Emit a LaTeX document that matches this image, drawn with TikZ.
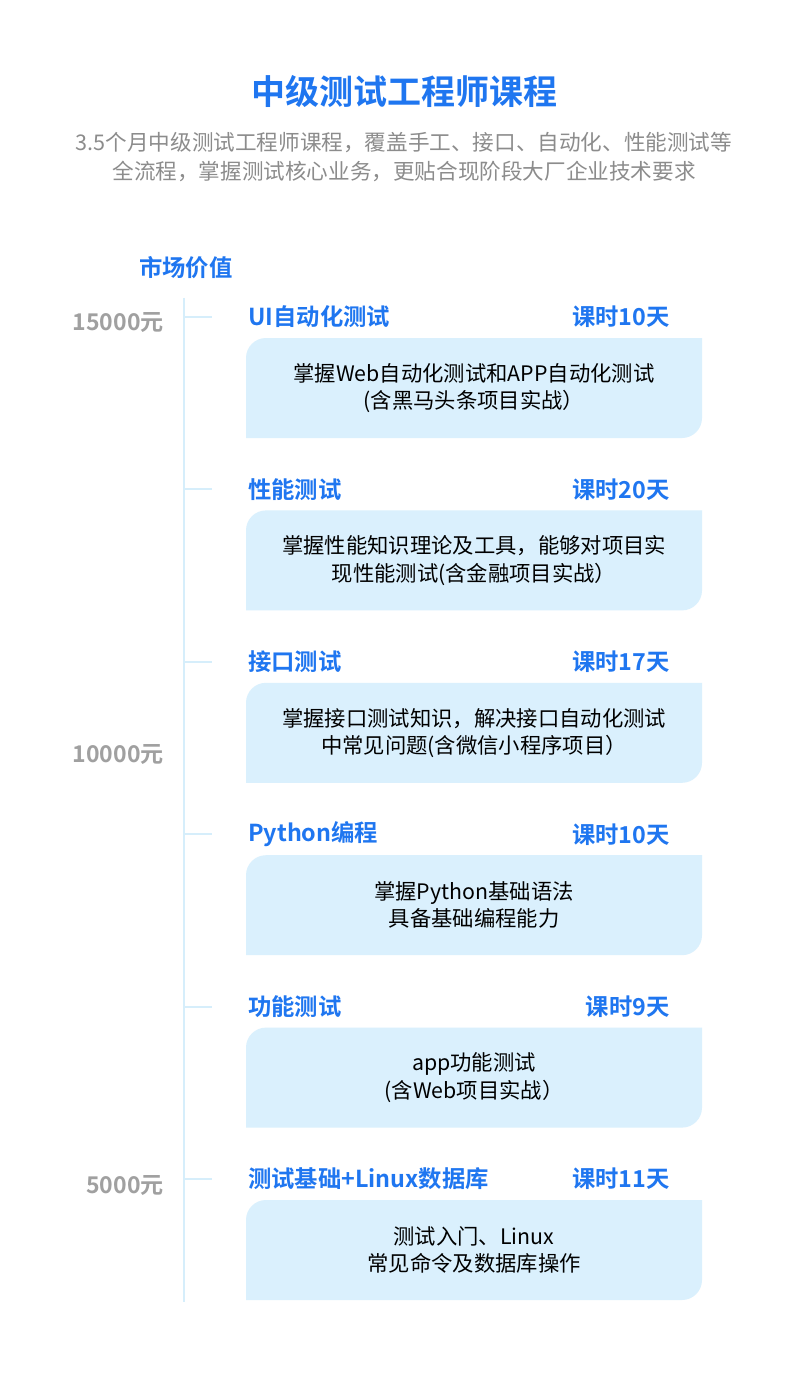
\documentclass[tikz,border=0pt]{standalone}
\usepackage{fontspec}
\setmainfont{Noto Sans CJK SC}[BoldFont={Noto Sans CJK SC Bold}]
\definecolor{titleblue}{HTML}{1F76F0}
\definecolor{boxblue}{HTML}{DAF0FD}
\definecolor{lineblue}{HTML}{D6EEFB}
\definecolor{subgray}{HTML}{8C8C8C}
\definecolor{pricegray}{HTML}{A0A0A0}
\tikzset{
  head/.style={font=\fontsize{17.5}{20}\selectfont\bfseries, text=titleblue, inner sep=0pt},
  body/.style={font=\fontsize{16}{20.5}\selectfont, align=center, inner sep=0pt},
  price/.style={font=\fontsize{17.3}{20}\selectfont\bfseries, text=pricegray, anchor=east, inner sep=0pt},
}
\begin{document}
\begin{tikzpicture}[x=0.75pt, y=-0.75pt]
    \useasboundingbox[fill=white] (0,0) rectangle (807,1376);

    \node[font=\fontsize{25.5}{28}\selectfont\bfseries, text=titleblue] (title) at (404,92) {中级测试工程师课程};
    \node[font=\fontsize{16.2}{21.8}\selectfont, text=subgray, align=center] (sub) at (404,157)
      {3.5个月中级测试工程师课程，覆盖手工、接口、自动化、性能测试等\\全流程，掌握测试核心业务，更贴合现阶段大厂企业技术要求};

    \node[head, anchor=west] (value) at (139,268) {市场价值};

    \coordinate (top) at (184,298);
    \coordinate (bot) at (184,1302);
    \draw[lineblue, line width=2.2pt] (top) -- (bot);

    \node[price] (p15) at (164,323) {15000元};
    \node[price] (p10) at (164,755) {10000元};
    \node[price] (p5) at (164,1186) {5000元};

    \foreach \i/\name/\days/\txt in {
      0/UI自动化测试/课时10天/{掌握Web自动化测试和APP自动化测试\\(含黑马头条项目实战）},
      1/性能测试/课时20天/{掌握性能知识理论及工具，能够对项目实\\现性能测试(含金融项目实战）},
      2/接口测试/课时17天/{掌握接口测试知识，解决接口自动化测试\\中常见问题(含微信小程序项目）},
      3/Python编程/课时10天/{掌握Python基础语法\\具备基础编程能力},
      4/功能测试/课时9天/{app功能测试\\(含Web项目实战）},
      5/测试基础+Linux数据库/课时11天/{测试入门、Linux\\常见命令及数据库操作}} {
      \pgfmathsetmacro{\y}{317+172.4*\i}
      \coordinate (tick\i) at (212,\y);
      \draw[lineblue, line width=1.5pt] (184,\y) -- (tick\i);
      \node[head, anchor=west] (name\i) at (248,\y) {\name};
      \node[head, anchor=east] (days\i) at (670,\y) {\days};
      \fill[boxblue] (246,\y+41) arc[start angle=180, end angle=270, radius=20]
        -- (702,\y+21) -- (702,\y+101) arc[start angle=0, end angle=90, radius=20]
        -- (246,\y+121) -- cycle;
      \node[body] (txt\i) at (474,\y+71) {\txt};
    }
\end{tikzpicture}
\end{document}
